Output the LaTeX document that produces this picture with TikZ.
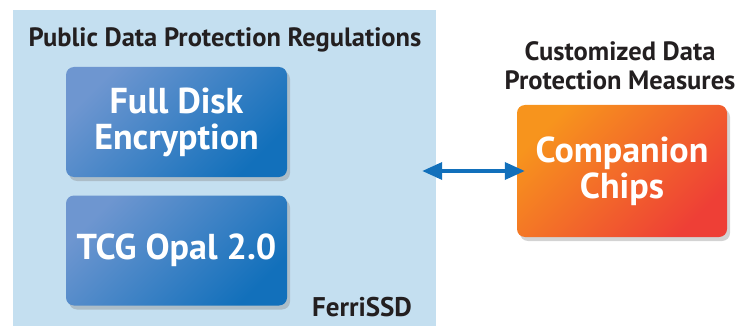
\documentclass[tikz,border=0pt]{standalone}
\usepackage{fontspec}
\setmainfont{PT Sans}
\usetikzlibrary{shadows,positioning,arrows.meta}
\definecolor{panelblue}{HTML}{C4DFF0}
\definecolor{boxlight}{HTML}{6E96D0}
\definecolor{boxdark}{HTML}{1270BB}
\definecolor{chiplight}{HTML}{F7941D}
\definecolor{chipdark}{HTML}{EE3F36}
\definecolor{inktext}{HTML}{231F20}
\tikzset{
panel/.style = {rectangle, fill=panelblue, inner sep=0pt, minimum width=423pt, minimum height=316pt},% fond FerriSSD
heading/.style = {align=center, inner sep=0pt, text=inktext, font=\bfseries\fontsize{26.5}{29}\selectfont},% titres
stdbox/.style = {rectangle, rounded corners=8pt, align=center, text=white, inner sep=0pt,
  font=\bfseries\fontsize{36}{36}\selectfont, minimum width=221pt, minimum height=110pt,
  top color=boxlight, bottom color=boxdark, shading angle=45,
  drop shadow={opacity=0.35, shadow xshift=3pt, shadow yshift=-4pt}},% norme publique
chipbox/.style = {stdbox, minimum width=210pt, minimum height=132pt,
  top color=chiplight, bottom color=chipdark, shading angle=45},% mesure sur mesure
biarrow/.style = {draw=boxdark, line width=3.5pt, {Triangle[length=20pt,width=17pt]}-{Triangle[length=20pt,width=17pt]}}
}

\begin{document}
\begin{tikzpicture}[x=1pt, y=-1pt]
  \useasboundingbox (0,0) rectangle (739,326);
  \node [panel] (ferri) at (224.5,168) {};
  \node [heading] (pubtitle) at (225,40) {Public Data Protection Regulations};
  \node [stdbox] (fde) at (176.5,122) {Full Disk\\Encryption};
  \node [stdbox] (opal) at (176.5,250.5) {TCG Opal 2.0};
  \node [heading, font=\bfseries\fontsize{27}{29}\selectfont] (ferriname) at (362,307) {FerriSSD};
  \node [heading] (custtitle) at (620,66) {Customized Data\\Protection Measures};
  \node [chipbox] (chips) at (622,171) {Companion\\Chips};
  \draw [biarrow, shorten <=-14pt, shorten >=-8pt] (ferri.east |- chips.west) -- (chips.west);
\end{tikzpicture}
\end{document}
